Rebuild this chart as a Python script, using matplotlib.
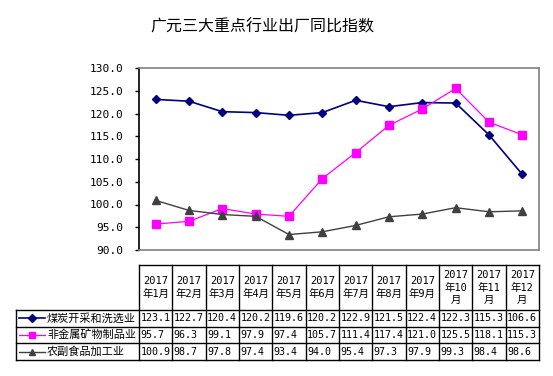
import matplotlib
matplotlib.use("Agg")
import matplotlib.pyplot as plt

plt.rcParams['font.family'] = ['Noto Sans CJK SC', 'DejaVu Sans']

title = "广元三大重点行业出厂同比指数"
months = ["2017\n年1月", "2017\n年2月", "2017\n年3月", "2017\n年4月", "2017\n年5月",
          "2017\n年6月", "2017\n年7月", "2017\n年8月", "2017\n年9月",
          "2017\n年10\n月", "2017\n年11\n月", "2017\n年12\n月"]
series_names = ["煤炭开采和洗选业", "非金属矿物制品业", "农副食品加工业"]
coal = [123.1, 122.7, 120.4, 120.2, 119.6, 120.2, 122.9, 121.5, 122.4, 122.3, 115.3, 106.6]
nonmetal = [95.7, 96.3, 99.1, 97.9, 97.4, 105.7, 111.4, 117.4, 121.0, 125.5, 118.1, 115.3]
agri = [100.9, 98.7, 97.8, 97.4, 93.4, 94.0, 95.4, 97.3, 97.9, 99.3, 98.4, 98.6]
yticks = [90, 95, 100, 105, 110, 115, 120, 125, 130]

series = [coal, nonmetal, agri]
colors = ["#000080", "#FF00FF", "#404040"]
markers = ["D", "s", "^"]
msizes = [4.5, 5.5, 5.5]
lws = [1.2, 0.9, 1.0]
mono = ['DejaVu Sans Mono', 'Noto Sans CJK SC']

W, H = 553, 376
fig = plt.figure(figsize=(W / 100, H / 100), dpi=100)

px_left, px_right = 139, 539
py_top, py_bot = 68, 250

ax = fig.add_axes([px_left / W, 1 - py_bot / H, (px_right - px_left) / W, (py_bot - py_top) / H])
n = len(months)
x = list(range(n))
for vals, c, m, ms, lw in zip(series, colors, markers, msizes, lws):
    ax.plot(x, vals, color=c, marker=m, markersize=ms, linewidth=lw, markeredgecolor=c)
ax.set_xlim(-0.5, n - 0.5)
ax.set_ylim(90, 130)
ax.set_yticks(yticks)
ax.set_yticklabels([f"{v:.1f}" for v in yticks], fontsize=8, family=mono)
ax.set_xticks([])
ax.tick_params(axis='y', direction='out', length=3, pad=8.5, width=1)
for s in ['top', 'right', 'bottom']:
    ax.spines[s].set_color('#808080')
    ax.spines[s].set_linewidth(1.2)
ax.spines['left'].set_color('black')
ax.spines['left'].set_linewidth(1.2)

fig.text(262 / W, 1 - 27 / H, title, ha='center', va='center', fontsize=11.5)

tab = fig.add_axes([0, 0, 1, 1])
tab.set_xlim(0, W)
tab.set_ylim(H, 0)
tab.axis('off')

t_top, t_hdr, t_bot = 265, 310, 360
row_h = (t_bot - t_hdr) / 3
tab_left = 16
col_w = (px_right - px_left) / n
lk = dict(color='black', linewidth=1.0)
tab.plot([px_left, px_right], [t_top, t_top], **lk)
for i in range(4):
    yy = t_hdr + i * row_h
    tab.plot([tab_left, px_right], [yy, yy], **lk)
tab.plot([tab_left, tab_left], [t_hdr, t_bot], **lk)
for j in range(n + 1):
    xx = px_left + j * col_w
    tab.plot([xx, xx], [t_top, t_bot], **lk)

for j, lab in enumerate(months):
    cx = px_left + (j + 0.5) * col_w
    tab.text(cx, (t_top + t_hdr) / 2, lab, ha='center', va='center', fontsize=7.5,
             linespacing=1.35, family=mono)

for i, (name, vals, c, m, ms, lw) in enumerate(zip(series_names, series, colors, markers, msizes, lws)):
    cy = t_hdr + (i + 0.5) * row_h
    tab.plot([19, 45], [cy, cy], color=c, linewidth=lw)
    tab.plot([32], [cy], color=c, marker=m, markersize=ms - 0.5, markeredgecolor=c)
    tab.text(47, cy, name, ha='left', va='center', fontsize=8.0)
    for j, v in enumerate(vals):
        tab.text(px_left + j * col_w + 1.5, cy, f"{v:.1f}", ha='left', va='center',
                 fontsize=7.2, family=mono)

fig.savefig("out.png", dpi=100)
